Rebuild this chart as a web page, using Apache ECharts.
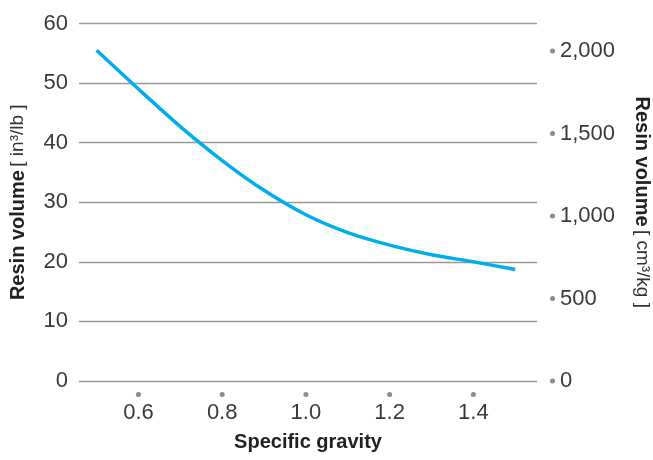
<!DOCTYPE html>
<html>
<head>
<meta charset="utf-8">
<script src="https://cdn.jsdelivr.net/npm/echarts@6/dist/echarts.min.js"></script>
<style>html,body{margin:0;padding:0;background:#fff}#c{width:653px;height:460px}</style>
</head>
<body>
<div id="c"></div>
<script>
var specificGravity = [0.5, 0.6, 0.7, 0.8, 0.9, 1.0, 1.1, 1.2, 1.3, 1.4, 1.5];
var resinVolumeIn3PerLb = [55.5, 49.0, 42.7, 37.0, 32.0, 27.9, 24.9, 22.8, 21.2, 20.0, 18.7];
var xTickValues = [0.6, 0.8, 1.0, 1.2, 1.4];
var rightTickValues = [0, 500, 1000, 1500, 2000];

var FONT = 'Liberation Sans';
var chart = echarts.init(document.getElementById('c'), null, {renderer: 'canvas'});
var data = specificGravity.map(function (x, i) { return [x, resinVolumeIn3PerLb[i]]; });
var dotStyle = {width: 5, height: 5, backgroundColor: '#8a8a8a', borderRadius: 2.5, fontSize: 1, lineHeight: 5};

chart.setOption({
  animation: false,
  backgroundColor: '#fff',
  grid: {left: 79, right: 116, top: 23.5, bottom: 79, outerBoundsMode: 'none', containLabel: false},
  xAxis: {
    type: 'value', min: 0.458, max: 1.552,
    name: 'Specific gravity', nameLocation: 'middle', nameGap: 51,
    nameTextStyle: {fontFamily: FONT, fontWeight: 'bold', fontSize: 20, color: '#222'},
    axisLine: {show: false}, axisTick: {show: false}, splitLine: {show: false},
    axisLabel: {
      customValues: xTickValues, margin: 11,
      formatter: function (v) { return '{d| }\n{v|' + v.toFixed(1) + '}'; },
      rich: {
        d: Object.assign({}, dotStyle, {lineHeight: 5}),
        v: {fontSize: 22, lineHeight: 32, color: '#3a3a3a', fontFamily: FONT}
      }
    }
  },
  yAxis: [{
    type: 'value', min: 0, max: 60, interval: 10, position: 'left',
    name: '{b|Resin volume} {n|[ in³/lb ]}', nameLocation: 'middle', nameGap: 51,
    nameTextStyle: {rich: {
      b: {fontFamily: FONT, fontWeight: 'bold', fontSize: 20, color: '#222'},
      n: {fontFamily: FONT, fontSize: 19, color: '#333'}
    }},
    axisLine: {show: false}, axisTick: {show: false},
    axisLabel: {margin: 11, fontFamily: FONT, fontSize: 22, color: '#3a3a3a'},
    splitLine: {lineStyle: {color: '#999', width: 1.3}}
  }, {
    type: 'value', min: 0, max: 2167, position: 'right',
    name: '{b|Resin volume} {n|[ cm³/kg ]}', nameLocation: 'middle', nameGap: 95, nameRotate: -90,
    nameTextStyle: {rich: {
      b: {fontFamily: FONT, fontWeight: 'bold', fontSize: 20, color: '#222'},
      n: {fontFamily: FONT, fontSize: 19, color: '#333'}
    }},
    axisLine: {show: false}, axisTick: {show: false}, splitLine: {show: false},
    axisLabel: {
      customValues: rightTickValues, margin: 13,
      formatter: function (v) { return '{d| }{v|' + v.toLocaleString('en-US') + '}'; },
      rich: {
        d: Object.assign({}, dotStyle, {padding: [0, 0, 0, 0]}),
        v: {fontSize: 22, color: '#3a3a3a', fontFamily: FONT, padding: [0, 0, 0, 5]}
      }
    }
  }],
  series: [{
    type: 'line', data: data, yAxisIndex: 0, smooth: 0.3, symbol: 'none',
    lineStyle: {color: '#00AEEF', width: 3.5}
  }]
});
</script>
</body>
</html>
